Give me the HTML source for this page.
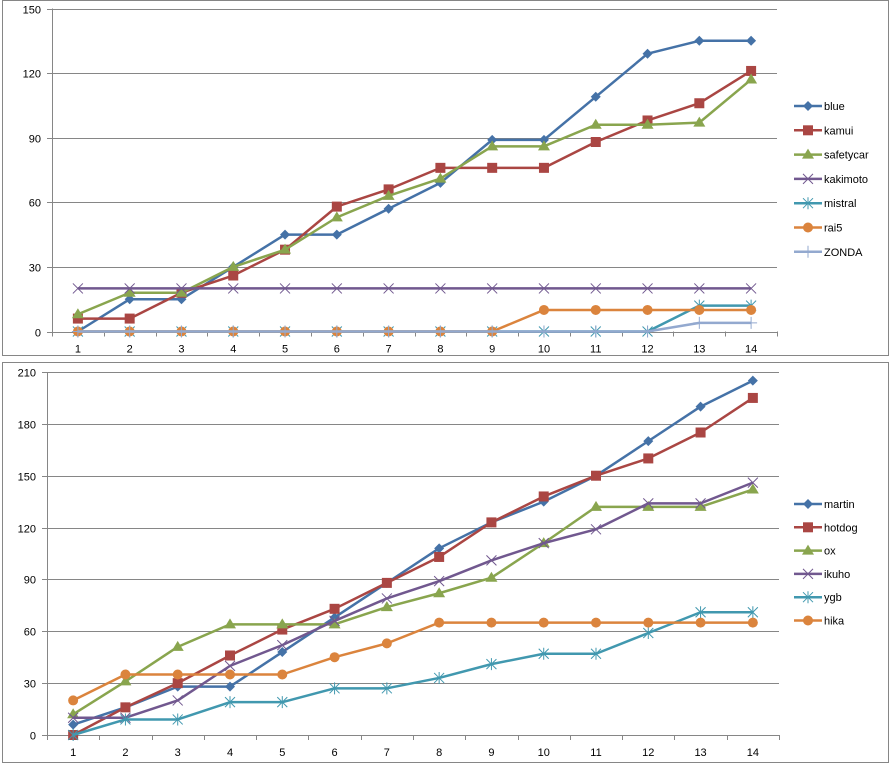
<!DOCTYPE html>
<html><head><meta charset="utf-8"><style>
body{margin:0;background:#fff;font-family:"Liberation Sans",sans-serif;}
svg text{font-family:"Liberation Sans",sans-serif;font-size:11px;fill:#000;}
</style></head><body>
<svg id="root" width="894" height="767" xmlns="http://www.w3.org/2000/svg"></svg>
<script>
const categories=[1,2,3,4,5,6,7,8,9,10,11,12,13,14];
const topNames=["blue","kamui","safetycar","kakimoto","mistral","rai5","ZONDA"];
const blue=[0,15,15,30,45,45,57,69,89,89,109,129,135,135];
const kamui=[6,6,18,26,38,58,66,76,76,76,88,98,106,121];
const safetycar=[8,18,18,30,38,53,63,71,86,86,96,96,97,117];
const kakimoto=[20,20,20,20,20,20,20,20,20,20,20,20,20,20];
const mistral=[0,0,0,0,0,0,0,0,0,0,0,0,12,12];
const rai5=[0,0,0,0,0,0,0,0,0,10,10,10,10,10];
const ZONDA=[0,0,0,0,0,0,0,0,0,0,0,0,4,4];
const topTicks=[0,30,60,90,120,150];
const botNames=["martin","hotdog","ox","ikuho","ygb","hika"];
const martin=[6,16,28,28,48,68,88,108,123,135,150,170,190,205];
const hotdog=[0,16,30,46,61,73,88,103,123,138,150,160,175,195];
const ox=[12,31,51,64,64,64,74,82,91,111,132,132,132,142];
const ikuho=[10,10,20,40,52,66,79,89,101,111,119,134,134,146];
const ygb=[0,9,9,19,19,27,27,33,41,47,47,59,71,71];
const hika=[20,35,35,35,35,45,53,65,65,65,65,65,65,65];
const botTicks=[0,30,60,90,120,150,180,210];

const NS="http://www.w3.org/2000/svg";
const root=document.getElementById('root');
function mk(tag,attrs,parent){const e=document.createElementNS(NS,tag);for(const k in attrs)e.setAttribute(k,attrs[k]);(parent||root).appendChild(e);return e;}
const colors={diamond:"#4572A7",square:"#AA4643",tri:"#89A54E",x:"#71588F",star:"#4198AF",circle:"#DB843D",plus:"#93A9CF"};
function marker(g,type,x,y,c){
  let m;
  if(type==="diamond")m=mk('polygon',{points:`${x},${y-5} ${x+5},${y} ${x},${y+5} ${x-5},${y}`,fill:c},g);
  else if(type==="square")m=mk('rect',{x:x-5,y:y-5,width:10,height:10,fill:c},g);
  else if(type==="tri")m=mk('polygon',{points:`${x},${y-6} ${x+6},${y+4} ${x-6},${y+4}`,fill:c},g);
  else if(type==="circle")m=mk('circle',{cx:x,cy:y,r:5,fill:c},g);
  else if(type==="x")m=mk('path',{d:`M${x-5},${y-5}L${x+5},${y+5}M${x-5},${y+5}L${x+5},${y-5}`,stroke:c,'stroke-width':1},g);
  else if(type==="star")m=mk('path',{d:`M${x-5},${y-5}L${x+5},${y+5}M${x-5},${y+5}L${x+5},${y-5}M${x},${y-6}L${x},${y+6}`,stroke:c,'stroke-width':1},g);
  else m=mk('path',{d:`M${x-6},${y}L${x+6},${y}M${x},${y-6}L${x},${y+6}`,stroke:c,'stroke-width':1},g);
  
  
}
function chart(cfg){
  const g=mk('g',{});
  
  
  const fr=mk('rect',{x:cfg.box[0]+0.5,y:cfg.box[1]+0.5,width:cfg.box[2],height:cfg.box[3],fill:'#fff',stroke:'#868686'},g);
  
  
  const L=cfg.plot[0],T=cfg.plot[1],R=cfg.plot[2],B=cfg.plot[3];
  const max=cfg.ticks[cfg.ticks.length-1];
  const ys=v=>B-(v/max)*(B-T);
  const step=(R-L)/categories.length;
  const xs=i=>L+step*(i+0.5);
  cfg.ticks.forEach(t=>{
    const y=Math.round(ys(t))+0.5;
    const gl=mk('line',{x1:L-5,x2:R,y1:y,y2:y,stroke:'#868686'},g);
    
    
    const tx=mk('text',{x:L-11,y:y+4,'text-anchor':'end'},g);tx.textContent=t;
    
    
  });
  const ax=mk('line',{x1:L+0.5,x2:L+0.5,y1:T,y2:B+5,stroke:'#868686'},g);
  
  
  categories.forEach((c,i)=>{
    const tx0=Math.round(L+step*(i+1))+0.5;
    mk('line',{x1:tx0,x2:tx0,y1:B,y2:B+5,stroke:'#868686'},g);
    const tx=mk('text',{x:xs(i),y:B+21,'text-anchor':'middle'},g);tx.textContent=c;
    
    
  });
  cfg.series.forEach((s,si)=>{
    const c=colors[s.m];
    const sg=mk('g',{},g);
    
    
    mk('polyline',{points:s.data.map((v,i)=>xs(i)+','+ys(v)).join(' '),fill:'none',stroke:c,'stroke-width':2.5,'stroke-linejoin':'round'},sg);
    s.data.forEach((v,i)=>marker(sg,s.m,xs(i),ys(v),c));
    const ly=cfg.legY+si*cfg.legStep;
    const lg=mk('g',{},g);
    
    
    mk('line',{x1:794,x2:822,y1:ly,y2:ly,stroke:c,'stroke-width':2.5},lg);
    marker(lg,s.m,808,ly,c);
    const lt=mk('text',{x:824,y:ly+4},lg);lt.textContent=s.name;
  });
}
const mt=["diamond","square","tri","x","star","circle","plus"];
const topData=[blue,kamui,safetycar,kakimoto,mistral,rai5,ZONDA];
const botData=[martin,hotdog,ox,ikuho,ygb,hika];
chart({name:'top-chart',box:[2,0,886,355],plot:[52,8.5,777,331.5],ticks:topTicks,
  series:topNames.map((n,i)=>({name:n,data:topData[i],m:mt[i]})),legY:106,legStep:24.3});
chart({name:'bottom-chart',box:[2,362,886,400],plot:[47,372,779,735],ticks:botTicks,
  series:botNames.map((n,i)=>({name:n,data:botData[i],m:mt[i]})),legY:504,legStep:23.3});
</script>
</body></html>
